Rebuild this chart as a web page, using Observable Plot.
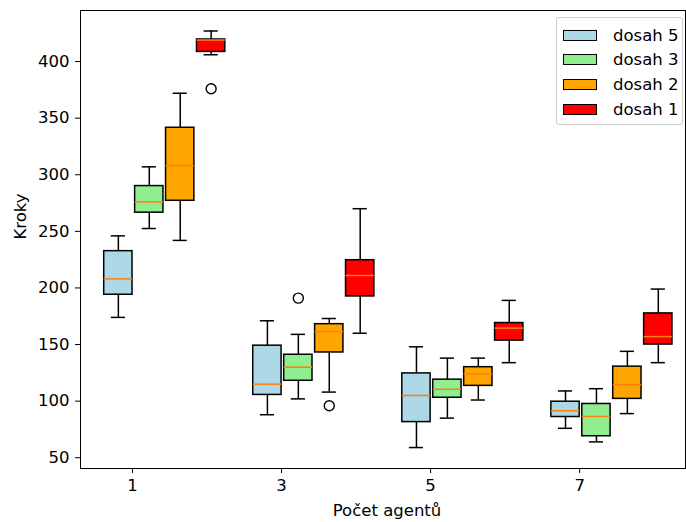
<!DOCTYPE html>
<html>
<head>
<meta charset="utf-8">
<script src="https://cdn.jsdelivr.net/npm/d3@7"></script>
<script src="https://cdn.jsdelivr.net/npm/@observablehq/plot@0.6"></script>
<style>
  body { margin: 0; background: #fff; }
  #wrap { position: relative; width: 686px; height: 522px; font-family: "DejaVu Sans", sans-serif; }
  #legend { position: absolute; left: 556px; top: 17px; width: 127px; height: 108px; box-sizing: border-box;
    border: 1px solid #cccccc; border-radius: 3px; background: rgba(255,255,255,0.8); font-size: 16.5px; color: #000; }
  .row { position: absolute; left: 6px; height: 20px; display: flex; align-items: center; }
  .sw { width: 34px; height: 11px; box-sizing: border-box; border: 1.4px solid #000; margin-right: 16px; }
</style>
</head>
<body>
<div id="wrap"><div id="chart"></div><div id="legend"></div></div>
<script>
// ---- data ----
const groups = [1, 3, 5, 7];
const doses = ["dosah 5", "dosah 3", "dosah 2", "dosah 1"];
const colors = ["#add8e6", "#90ee90", "#ffa500", "#ff0000"];
// [whisker low, Q1, median, Q3, whisker high] for each group
const dosah5 = [[174, 194, 208, 232.5, 246], [88, 105.5, 115, 149, 171], [59, 81.5, 105, 124.5, 148], [76, 86, 91.5, 99.5, 109]];
const dosah3 = [[252.5, 266.5, 276, 290, 307], [102, 118, 130, 141, 159], [85, 103, 110.5, 119, 138], [64, 69, 86.5, 97.5, 111]];
const dosah2 = [[242, 277, 308, 341.5, 372], [108, 143, 161.5, 168, 173], [101, 113.5, 124, 130, 138], [89, 102, 114.5, 130.5, 144]];
const dosah1 = [[406, 408.5, 419, 419.5, 427], [160, 192.5, 211, 224.5, 270], [134, 153.5, 164.5, 169, 189], [134, 150, 157, 177.5, 199]];
// outliers: [dose index, group index, value]
const outliers = [[3, 0, 376], [1, 1, 191], [2, 1, 96]];
const yTicks = [50, 100, 150, 200, 250, 300, 350, 400];
const xTicks = [1, 3, 5, 7];

// ---- layout (not data) ----
const offsets = [-0.19, 0.225, 0.64, 1.055];
const boxW = 0.38;
const series = [dosah5, dosah3, dosah2, dosah1];
const rows = [];
series.forEach((s, di) => s.forEach((v, gi) => {
  const x = groups[gi] + offsets[di];
  rows.push({dose: doses[di], color: colors[di], x, lo: v[0], q1: v[1], med: v[2], q3: v[3], hi: v[4]});
}));
const outRows = outliers.map(([di, gi, v]) => ({x: groups[gi] + offsets[di], v}));

const fs = 16.5;
const plot = Plot.plot({
  width: 686, height: 522,
  marginLeft: 80, marginRight: 1, marginTop: 10, marginBottom: 54,
  style: {fontFamily: "DejaVu Sans, sans-serif", fontSize: fs + "px", color: "#000", background: "#fff"},
  x: {domain: [0.302, 8.42]},
  y: {domain: [40.5, 445.1]},
  marks: [
    Plot.ruleX(rows, {x: "x", y1: "lo", y2: "q1", stroke: "#000", strokeWidth: 1.5}),
    Plot.ruleX(rows, {x: "x", y1: "q3", y2: "hi", stroke: "#000", strokeWidth: 1.5}),
    Plot.ruleY(rows, {y: "lo", x1: d => d.x - boxW / 4, x2: d => d.x + boxW / 4, stroke: "#000", strokeWidth: 1.5}),
    Plot.ruleY(rows, {y: "hi", x1: d => d.x - boxW / 4, x2: d => d.x + boxW / 4, stroke: "#000", strokeWidth: 1.5}),
    Plot.rect(rows, {x1: d => d.x - boxW / 2, x2: d => d.x + boxW / 2, y1: "q1", y2: "q3", fill: "color", stroke: "#000", strokeWidth: 1.5}),
    Plot.ruleY(rows, {y: "med", x1: d => d.x - boxW / 2, x2: d => d.x + boxW / 2, stroke: "#ff7f0e", strokeWidth: 1.5}),
    Plot.dot(outRows, {x: "x", y: "v", r: 5, stroke: "#000", strokeWidth: 1.4, fill: "none"}),
    Plot.axisY(yTicks, {tickSize: 5, tickPadding: 6, label: null, fontSize: fs}),
    Plot.axisX(xTicks, {tickSize: 5, tickPadding: 6, label: null, fontSize: fs, tickFormat: d => String(d)}),
    Plot.text(["Kroky"], {frameAnchor: "left", dx: -60, rotate: -90, fontSize: fs}),
    Plot.text(["Počet agentů"], {frameAnchor: "bottom", dx: 4, dy: 47, fontSize: fs}),
    Plot.frame({stroke: "#000", strokeWidth: 1})
  ]
});
document.getElementById("chart").appendChild(plot);

const leg = document.getElementById("legend");
doses.forEach((d, i) => {
  const r = document.createElement("div");
  r.className = "row";
  r.style.top = (7 + i * 24.7) + "px";
  r.innerHTML = `<div class="sw" style="background:${colors[i]}"></div><span>${d}</span>`;
  leg.appendChild(r);
});
</script>
</body>
</html>
